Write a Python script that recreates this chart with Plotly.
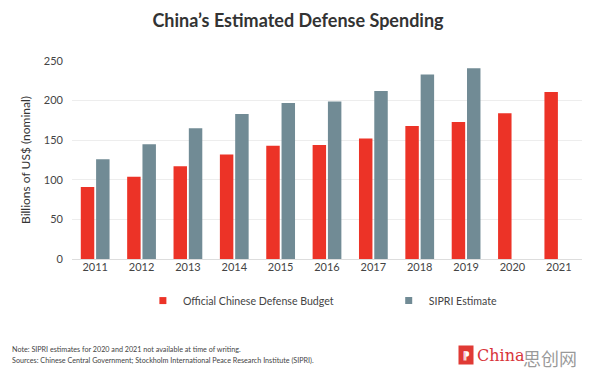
import plotly.graph_objects as go

years = ["2011", "2012", "2013", "2014", "2015", "2016", "2017", "2018", "2019", "2020", "2021"]
official = [91, 104, 117, 132, 143, 144, 152, 168, 173, 184, 211]
sipri = [126, 145, 165, 183, 197, 199, 212, 233, 241, None, None]
y_ticks = [0, 50, 100, 150, 200, 250]

RED = "#EC3327"
GRAY = "#718B95"
FONT = "Lato, 'Open Sans', sans-serif"

fig = go.Figure()
fig.add_trace(go.Bar(x=years, y=official, name="Official Chinese Defense Budget",
                     marker=dict(color=RED, line=dict(width=0)), showlegend=False))
fig.add_trace(go.Bar(x=years, y=sipri, name="SIPRI Estimate",
                     marker=dict(color=GRAY, line=dict(width=0)), showlegend=False))
# legend-only entries with small square markers
fig.add_trace(go.Scatter(x=[None], y=[None], mode="markers", name="Official Chinese Defense Budget",
                         marker=dict(symbol="square", size=7, color=RED), legend="legend"))
fig.add_trace(go.Scatter(x=[None], y=[None], mode="markers", name="SIPRI Estimate",
                         marker=dict(symbol="square", size=7, color=GRAY), legend="legend2"))

leg_common = dict(orientation="h", xanchor="left", y=-0.21, yanchor="middle",
                  font=dict(size=10.6, color="#444444"), itemwidth=30, bgcolor="rgba(0,0,0,0)")

fig.update_layout(
    width=596, height=380,
    margin=dict(l=72, r=14, t=61, b=121),
    paper_bgcolor="white", plot_bgcolor="white",
    font=dict(family=FONT, color="#444444", size=11),
    barmode="group", bargap=0.34, bargroupgap=0.12,
    showlegend=True,
    legend=dict(x=0.139, **leg_common),
    legend2=dict(x=0.621, **leg_common),
    title=dict(text="<b>China’s Estimated Defense Spending</b>", x=0.5, xanchor="center",
               y=0.945, yanchor="middle", font=dict(size=18, color="#333333", family=FONT)),
)
fig.update_xaxes(showgrid=False, showline=False, ticks="", tickfont=dict(size=11, color="#444444"))
fig.update_yaxes(range=[0, 250], tickvals=y_ticks, showgrid=True, gridcolor="#EDEDED",
                 zeroline=True, zerolinecolor="#DDDDDD", zerolinewidth=1,
                 tickfont=dict(size=11, color="#444444"), ticklabelstandoff=8,
                 title=dict(text="Billions of US$ (nominal)", font=dict(size=12, color="#333333"),
                            standoff=10))

fig.add_annotation(text="Note: SIPRI estimates for 2020 and 2021 not available at time of writing.",
                   xref="paper", yref="paper", x=-0.122, y=-0.455, xanchor="left", yanchor="middle",
                   showarrow=False, font=dict(size=7.2, color="#444444"))
fig.add_annotation(text="Sources: Chinese Central Government; Stockholm International Peace Research Institute (SIPRI).",
                   xref="paper", yref="paper", x=-0.122, y=-0.515, xanchor="left", yanchor="middle",
                   showarrow=False, font=dict(size=7.2, color="#444444"))
fig.add_annotation(text="<b>⁋</b>", xref="paper", yref="paper", x=0.772, y=-0.485,
                   xanchor="center", yanchor="middle", showarrow=False,
                   bgcolor="#E03A35", font=dict(size=10, color="white"), width=12, height=16)
fig.add_annotation(text="China", xref="paper", yref="paper", x=0.79, y=-0.485,
                   xanchor="left", yanchor="middle", showarrow=False,
                   font=dict(size=16, color="#D8353A", family="'DejaVu Serif', serif"))
fig.add_annotation(text="思创网", xref="paper", yref="paper", x=0.995, y=-0.5,
                   xanchor="right", yanchor="middle", showarrow=False,
                   font=dict(size=18, color="rgba(120,120,120,0.75)", family="'Noto Sans CJK SC'"))

fig.write_html("out.html")
